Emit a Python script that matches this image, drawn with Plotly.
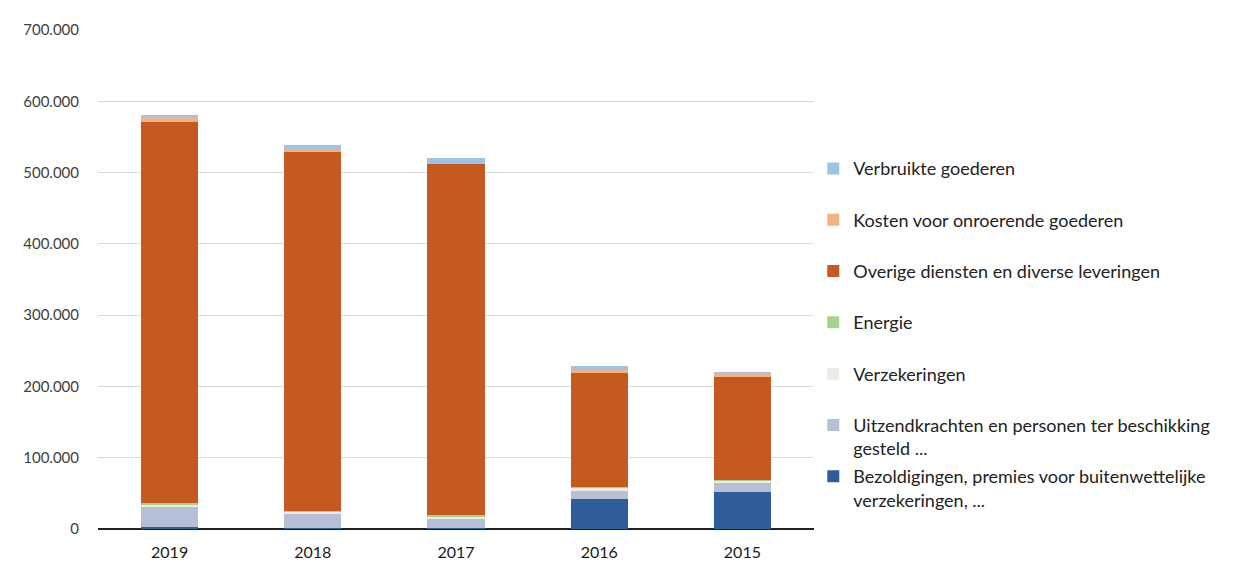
import plotly.graph_objects as go

years = ["2019", "2018", "2017", "2016", "2015"]

# Cost categories, bottom of the stack first
bezoldigingen = [3000, 2000, 1000, 42000, 52000]
uitzendkrachten = [28000, 19000, 13000, 12000, 12000]
verzekeringen = [4000, 3000, 4000, 4000, 4000]
energie = [1000, 1000, 1000, 1000, 1000]
overige = [535000, 505000, 494000, 160000, 144000]
kosten_onroerend = [5000, 1000, 1000, 4000, 6000]
verbruikte = [5000, 7000, 6000, 5000, 1000]

series = [
    ("Bezoldigingen, premies voor buitenwettelijke<br>verzekeringen, ...", bezoldigingen, "#2f5c9b"),
    ("Uitzendkrachten en personen ter beschikking<br>gesteld ...", uitzendkrachten, "#b7bfd6"),
    ("Verzekeringen<br> ", verzekeringen, "#ecebe6"),
    ("Energie<br> ", energie, "#a9d18e"),
    ("Overige diensten en diverse leveringen<br> ", overige, "#c55a1f"),
    ("Kosten voor onroerende goederen<br> ", kosten_onroerend, "#f4b183"),
    ("Verbruikte goederen<br> ", verbruikte, "#9dc3e6"),
]

fig = go.Figure()
n = len(series)
for i, (name, vals, color) in enumerate(series):
    # top of the stack is listed first in the legend
    fig.add_trace(go.Bar(
        x=years, y=vals, name=name, legendgroup=str(i), legendrank=n - i,
        marker=dict(color=color, line=dict(width=0)),
    ))

fig.update_layout(
    width=1238, height=575,
    barmode="stack", bargap=0.6,
    separators=",.",
    paper_bgcolor="white", plot_bgcolor="white",
    margin=dict(l=98, r=424, t=30, b=46),
    font=dict(family="Lato, 'Open Sans', sans-serif", size=15, color="#404040"),
    showlegend=True,
    legend=dict(
        x=0.999, xanchor="left", y=0.759, yanchor="top",
        traceorder="grouped", tracegroupgap=1.5, valign="top",
        font=dict(size=18, color="#222222"), itemwidth=30,
    ),
    xaxis=dict(showgrid=False, showline=False, ticks="", zeroline=False,
               ticklabelstandoff=12,
               tickfont=dict(size=16, color="#1a1a1a")),
    yaxis=dict(range=[0, 700000], dtick=100000, tickformat=",.0f",
               showgrid=True, gridcolor="#d9d9d9", gridwidth=1,
               zeroline=True, zerolinecolor="#222222", zerolinewidth=2,
               ticklabelstandoff=18, tickfont=dict(size=15, color="#404040")),
)

fig.write_html("out.html")
